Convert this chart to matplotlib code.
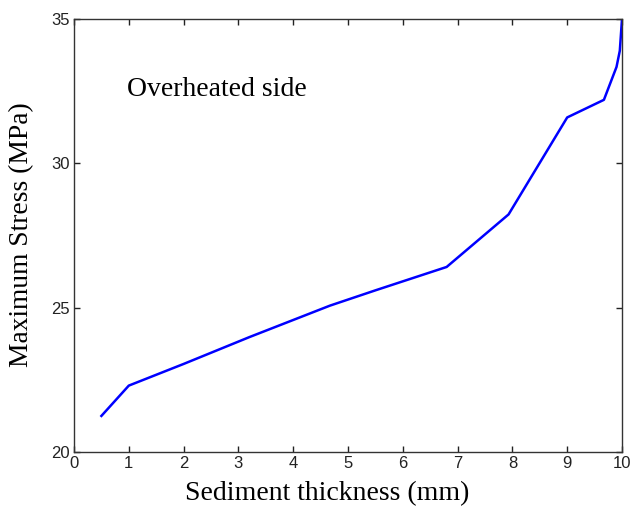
import matplotlib
matplotlib.use("Agg")
import matplotlib.pyplot as plt

thickness = [0.5, 1.0, 2.0, 3.2, 4.67, 5.5, 6.8, 7.93, 9.0, 9.67, 9.9, 9.96, 10.0]
stress = [21.25, 22.3, 23.05, 23.98, 25.07, 25.6, 26.41, 28.23, 31.59, 32.2, 33.34, 33.9, 35.0]
xticks = list(range(0, 11))
yticks = [20, 25, 30, 35]

fig = plt.figure(figsize=(6.31, 5.09), dpi=100)
ax = fig.add_axes([74/631, 57/509, 548/631, 433/509])
ax.plot(thickness, stress, color="#0000ff", lw=1.8)
ax.set_xlim(0, 10)
ax.set_ylim(20, 35)
ax.set_xticks(xticks)
ax.set_yticks(yticks)
ax.tick_params(direction="in", top=True, right=True, length=4, width=1,
               labelsize=12, pad=3, colors="#222222")
for lab in ax.get_xticklabels() + ax.get_yticklabels():
    lab.set_family("Liberation Sans")
for s in ax.spines.values():
    s.set_color("#333333")
    s.set_linewidth(1.0)
ax.set_xlabel("Sediment thickness (mm)", family="Liberation Serif", fontsize=20, va="center")
ax.xaxis.set_label_coords(0.4626, -0.097)
ax.set_ylabel("Maximum Stress (MPa)", family="Liberation Serif", fontsize=19.8, va="center")
ax.yaxis.set_label_coords(-0.095, 0.503)
ax.text(0.97, 32.55, "Overheated side", family="Liberation Serif", fontsize=20, va="center", ha="left")
fig.savefig("out.png", dpi=100)
